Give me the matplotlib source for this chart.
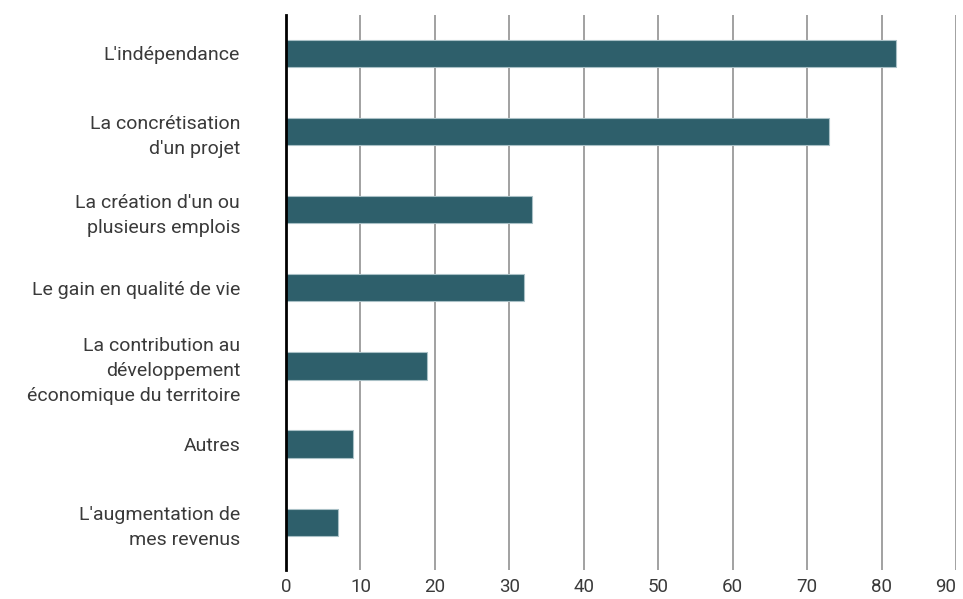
import matplotlib.pyplot as plt

# --- Data ---
categories = [
    "L'indépendance",
    "La concrétisation\nd'un projet",
    "La création d'un ou\nplusieurs emplois",
    "Le gain en qualité de vie",
    "La contribution au\ndéveloppement\néconomique du territoire",
    "Autres",
    "L'augmentation de\nmes revenus",
]
values = [82, 73, 33, 32, 19, 9, 7]
xticks = list(range(0, 100, 10))

plt.rcParams['font.family'] = ['Roboto', 'DejaVu Sans']

fig = plt.figure(figsize=(9.63, 5.99), dpi=100)
ax = fig.add_axes([286 / 963, 29 / 599, 670 / 963, 555 / 599])

ypos = list(range(len(categories)))
ax.barh(ypos, values, height=0.35, color="#2e5f6b", edgecolor="#a9c0c6",
        linewidth=0.8, zorder=3)

ax.set_xlim(0, 90)
ax.set_ylim(len(categories) - 1 + 0.61, -0.49)
ax.set_xticks(xticks)
ax.set_yticks(ypos)
ax.set_yticklabels(categories, fontsize=14, color="#3a3a3a", linespacing=1.5)
ax.set_xticklabels([str(t) for t in xticks], fontsize=13.5, color="#3a3a3a")
# keep the last tick label inside the figure
ax.get_xticklabels()[-1].set_horizontalalignment("right")

ax.grid(axis="x", color="#888888", linewidth=1.1, zorder=0)
ax.tick_params(axis="x", length=0, pad=6)
ax.tick_params(axis="y", length=0, pad=33)

for side in ["top", "right", "bottom"]:
    ax.spines[side].set_visible(False)
ax.spines["left"].set_linewidth(2)
ax.spines["left"].set_color("black")
ax.spines["left"].set_zorder(4)

fig.savefig("out.png", dpi=100)
